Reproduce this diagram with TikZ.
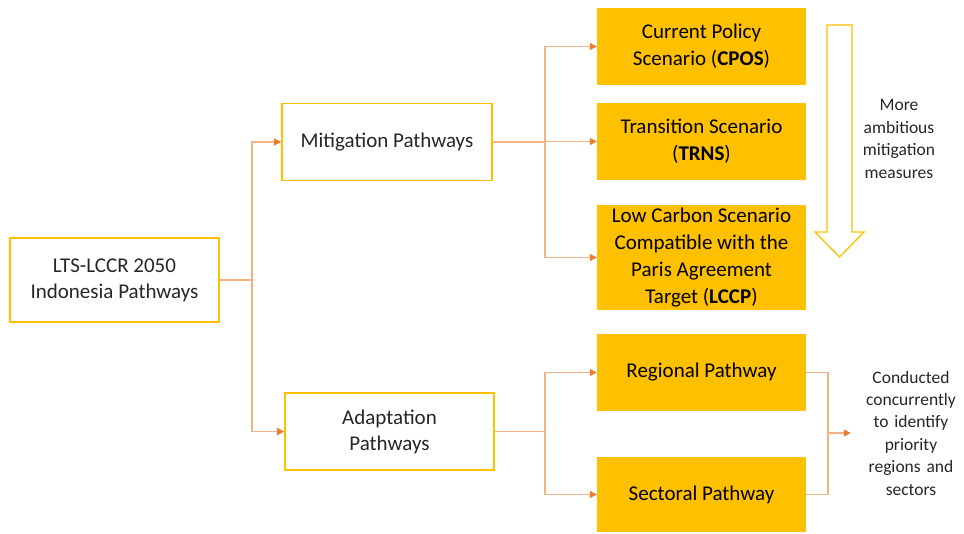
\documentclass[tikz,border=0pt]{standalone}
\usepackage{fontspec}
\setmainfont{Carlito}
\usepackage{xcolor}
\usepackage{tikz}
\usetikzlibrary{arrows.meta,positioning,calc}
\definecolor{gold}{HTML}{FFC000}
\definecolor{peach}{HTML}{F4B183}
\definecolor{tiporange}{HTML}{ED7D31}
\definecolor{textgray}{HTML}{262626}
\tikzset{
  rootbox/.style={draw=gold, line width=1.6pt, fill=white, align=center, text=textgray, minimum width=209pt, minimum height=84pt, font=\fontsize{21}{26}\selectfont},
  pathbox/.style={draw=gold, line width=1.6pt, fill=white, align=center, text=textgray, minimum width=209pt, minimum height=77pt, font=\fontsize{21}{26}\selectfont},
  scenario/.style={fill=gold, align=center, text=black, minimum width=209pt, minimum height=77pt, font=\fontsize{21}{27}\selectfont},
  note/.style={align=center, text=textgray, inner sep=0pt, font=\fontsize{17.5}{22.4}\selectfont},
  link/.style={draw=peach, line width=1.3pt},
  arrow/.style={link, -{Triangle[length=7pt, width=7pt, color=tiporange]}}
}
\begin{document}
\begin{tikzpicture}[x=1pt, y=-1pt]
  \useasboundingbox (0,0) rectangle (964,533);

  \node[rootbox] (root) at (114.5,280) {LTS-LCCR 2050\\Indonesia Pathways};
  \node[pathbox, minimum width=210pt] (mitig) at (387,142) {Mitigation Pathways};
  \node[pathbox] (adapt) at (389.5,431.5) {Adaptation\\Pathways};

  \node[scenario] (cpos) at (701.5,46.5) {Current Policy\\Scenario (\textbf{CPOS})};
  \node[scenario] (trns) at (701.5,141.5) {Transition Scenario\\(\textbf{TRNS})};
  \node[scenario, minimum height=105pt] (lccp) at (701.5,257.5)
    {Low Carbon Scenario\\Compatible with the\\Paris Agreement\\Target (\textbf{LCCP})};
  \node[scenario] (regional) at (701.5,372.5) {Regional Pathway};
  \node[scenario, minimum height=75pt] (sectoral) at (701.5,494.5) {Sectoral Pathway};

  \node[note] (ambition) at (899,139) {More\\ambitious\\mitigation\\measures};
  \node[note, text width=120pt] (concur) at (911,433)
    {Conducted\\concurrently\\to identify\\priority\\regions and\\sectors};

  \coordinate (split) at (252,280);
  \coordinate (msplit) at (545,142);
  \coordinate (asplit) at (545,431.5);
  \coordinate (join) at (828,433);

  \draw[arrow] (root.east) -- (split) |- (mitig.west);
  \draw[arrow] (root.east) -- (split) |- (adapt.west);

  \draw[arrow] (mitig.east) -- (msplit) |- (cpos.west);
  \draw[arrow] (mitig.east) -- (msplit) |- (trns.west);
  \draw[arrow] (mitig.east) -- (msplit) |- (lccp.west);

  \draw[arrow] (adapt.east) -- (asplit) |- (regional.west);
  \draw[arrow] (adapt.east) -- (asplit) |- (sectoral.west);

  \draw[link] (regional.east) -| (join);
  \draw[link] (sectoral.east) -| (join);
  \draw[arrow] (join) -- (concur.west);

  % hollow block arrow
  \draw[gold, line width=1.3pt, fill=white, line join=miter]
    (827,25) -- (852,25) -- (852,232) -- (864,232) -- (839.5,257)
    -- (815,232) -- (827,232) -- cycle;
\end{tikzpicture}
\end{document}
